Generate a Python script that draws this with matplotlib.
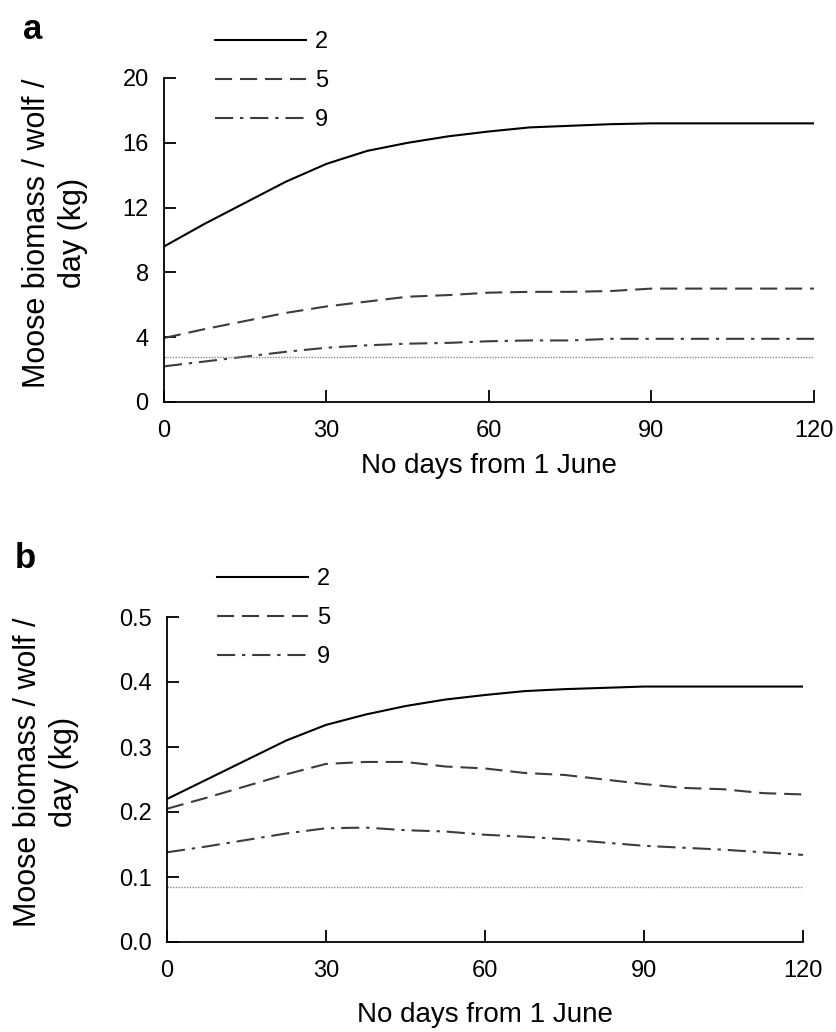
import numpy as np
import matplotlib
matplotlib.use("Agg")
import matplotlib.pyplot as plt

plt.rcParams['font.family'] = ['Liberation Sans', 'DejaVu Sans']

# days since 1 June at which the model was evaluated
days = np.arange(0, 121, 7.5)

# panel a: moose biomass per wolf per day (kg), by pack size
a_pack2 = [9.6, 11.0, 12.3, 13.6, 14.7, 15.5, 16.0, 16.4, 16.7, 16.95, 17.05, 17.15, 17.2, 17.2, 17.2, 17.2, 17.2]
a_pack5 = [3.95, 4.5, 5.0, 5.5, 5.9, 6.2, 6.5, 6.6, 6.75, 6.8, 6.8, 6.85, 7.0, 7.0, 7.0, 7.0, 7.0]
a_pack9 = [2.2, 2.5, 2.8, 3.1, 3.35, 3.5, 3.6, 3.65, 3.75, 3.8, 3.8, 3.9, 3.9, 3.9, 3.9, 3.9, 3.9]
a_need = 2.75

# panel b
b_pack2 = [0.22, 0.25, 0.28, 0.31, 0.334, 0.35, 0.363, 0.373, 0.38, 0.386, 0.389, 0.391, 0.393, 0.393, 0.393, 0.393, 0.393]
b_pack5 = [0.205, 0.222, 0.24, 0.258, 0.274, 0.277, 0.277, 0.27, 0.267, 0.26, 0.257, 0.25, 0.243, 0.237, 0.235, 0.229, 0.227]
b_pack9 = [0.138, 0.147, 0.157, 0.167, 0.175, 0.176, 0.172, 0.17, 0.165, 0.162, 0.158, 0.153, 0.148, 0.145, 0.142, 0.138, 0.134]
b_need = 0.084

pack_labels = ["2", "5", "9"]
x_ticks = [0, 30, 60, 90, 120]
a_yticks = [0, 4, 8, 12, 16, 20]
b_yticks = [0.0, 0.1, 0.2, 0.3, 0.4, 0.5]

W, H = 837, 1032
TICK_FS = 17
LEG_FS = 17
XLAB_FS = 20
YLAB_FS = 22


def px(x, y):
    # pixel position (from top-left) -> figure fraction
    return x / W, 1 - y / H


def draw_panel(ax, series, need, yticks, fmt, leg_xy):
    styles = [dict(color="black", linestyle="-"),
              dict(color="#3c3c3c", dashes=(8.2, 3.8)),
              dict(color="#3c3c3c", dashes=(8.7, 3.3, 1.6, 3.3))]
    for vals, lab, st in zip(series, pack_labels, styles):
        ax.plot(days, vals, lw=1.5, label=lab, **st)
    ax.plot([days[0], days[-1]], [need, need], color="#8a8a8a", lw=1.0, linestyle=(0, (1, 1)))

    ax.set_xlim(0, 120)
    ax.set_ylim(yticks[0], yticks[-1])
    ax.set_xticks(x_ticks)
    ax.set_yticks(yticks)
    ax.set_yticklabels([fmt.format(t) for t in yticks])
    ax.spines["top"].set_visible(False)
    ax.spines["right"].set_visible(False)
    ax.spines["left"].set_linewidth(1.3)
    ax.spines["bottom"].set_linewidth(1.3)
    ax.tick_params(direction="in", length=8.5, width=1.3, labelsize=TICK_FS)
    ax.tick_params(axis="y", pad=11)
    ax.tick_params(axis="x", pad=13)

    ax.legend(loc="upper left", bbox_to_anchor=px(*leg_xy),
              bbox_transform=ax.figure.transFigure, frameon=False,
              fontsize=LEG_FS, handlelength=3.85, handletextpad=0.38,
              labelspacing=0.72, borderaxespad=0, borderpad=0)


fig = plt.figure(figsize=(W / 100, H / 100), dpi=100)
ax_a = fig.add_axes([164 / W, 1 - 402 / H, 650 / W, 324 / H])
ax_b = fig.add_axes([167 / W, 1 - 942 / H, 636 / W, 325 / H])

draw_panel(ax_a, [a_pack2, a_pack5, a_pack9], a_need, a_yticks, "{:g}", (215, 31))
draw_panel(ax_b, [b_pack2, b_pack5, b_pack9], b_need, b_yticks, "{:.1f}", (217, 568))

ylab = "Moose biomass / wolf /\nday (kg)"
fig.text(*px(55, 233), ylab, fontsize=YLAB_FS, rotation=90, ha="center", va="center",
         multialignment="center", linespacing=1.3)
fig.text(*px(46, 772), ylab, fontsize=YLAB_FS, rotation=90, ha="center", va="center",
         multialignment="center", linespacing=1.3)

xlab = "No days from 1 June"
fig.text(*px(489, 466), xlab, fontsize=XLAB_FS, ha="center", va="center")
fig.text(*px(485, 1015), xlab, fontsize=XLAB_FS, ha="center", va="center")

fig.text(*px(23, 39), "a", fontsize=25, fontweight="bold", ha="left", va="baseline")
fig.text(*px(15, 568), "b", fontsize=25, fontweight="bold", ha="left", va="baseline")

fig.savefig("out.png", dpi=100)
